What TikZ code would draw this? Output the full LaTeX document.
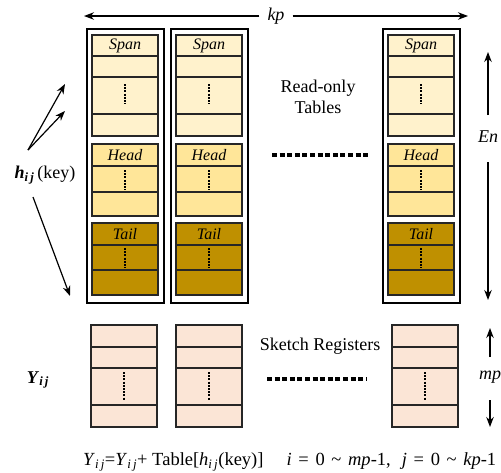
\documentclass[tikz,border=0pt]{standalone}
\usepackage{fontspec}
\setmainfont{Liberation Serif}
\usetikzlibrary{positioning, arrows.meta}
\definecolor{xspan}{HTML}{FFF2CC}
\definecolor{xhead}{HTML}{FFE699}
\definecolor{xtail}{HTML}{BF9000}
\definecolor{xreg}{HTML}{FBE5D6}
\tikzset{
	arrow/.style={line width=1.2pt, -{Stealth[length=10pt, width=7.5pt]}},
	frame/.style={line width=1.2pt, draw=black, fill=white},
	cell/.style={line width=1.5pt, draw=black!85},
	vdots/.style={line width=2.4pt, dash pattern=on 2pt off 1.2pt},
	hdots/.style={line width=3.4pt, dash pattern=on 5pt off 2.6pt},
	lbl/.style={font=\fontsize{16}{16}\selectfont\itshape, inner sep=0pt},
	txt/.style={font=\fontsize{18}{21}\selectfont, align=center, inner sep=0pt},
}

\begin{document}
\begin{tikzpicture}[x=1pt, y=-1pt]
	\useasboundingbox (0,0) rectangle (501,472);
	\clip (0,0) rectangle (501,472);
	% read-only tables
	\foreach \x in {92,176,388} {
		\draw[frame] (\x-5,29) rectangle (\x+72,303);
		% span
		\draw[cell, fill=xspan] (\x,35) rectangle (\x+66,136);
		\foreach \y in {56,77,114} \draw[cell] (\x,\y) -- (\x+66,\y);
		\node[lbl] (span\x) at (\x+33,46) {Span};
		\draw[vdots] (\x+33,84) -- (\x+33,104);
		% head
		\draw[cell, fill=xhead] (\x,144) rectangle (\x+66,216);
		\foreach \y in {166,192} \draw[cell] (\x,\y) -- (\x+66,\y);
		\node[lbl] (head\x) at (\x+33,155) {Head};
		\draw[vdots] (\x+33,170) -- (\x+33,190);
		% tail
		\draw[cell, fill=xtail] (\x,223) rectangle (\x+66,295);
		\foreach \y in {245,270} \draw[cell] (\x,\y) -- (\x+66,\y);
		\node[lbl] (tail\x) at (\x+33,234) {Tail};
		\draw[vdots] (\x+33,248) -- (\x+33,268);
	}
	\node[txt] (ro) at (318,97) {Read-only\\Tables};
	\draw[hdots] (272,155) -- (370,155);

	% sketch registers
	\foreach \x in {91,176,392} {
		\draw[cell, fill=xreg] (\x,325) rectangle (\x+66,427);
		\foreach \y in {347,368,405} \draw[cell] (\x,\y) -- (\x+66,\y);
		\draw[vdots] (\x+33,372) -- (\x+33,400);
	}
	\node[txt] (sr) at (320,346) {Sketch Registers};
	\draw[hdots] (267,379) -- (366,379);

	% kp
	\node[txt, font=\fontsize{18}{18}\selectfont\itshape, inner xsep=8pt] (kp) at (276,16) {kp};
	\coordinate (kpl) at (84,16);
	\coordinate (kpr) at (468,16);
	\draw[arrow] (kp.west) -- (kpl);
	\draw[arrow] (kp.east) -- (kpr);

	% En
	\node[txt, font=\fontsize{18}{18}\selectfont\itshape, anchor=west] (En) at (478,137) {En};
	\coordinate (enup) at (488,115);
	\coordinate (entop) at (488,52);
	\coordinate (endn) at (488,162);
	\coordinate (enbot) at (488,300);
	\draw[arrow] (enup) -- (entop);
	\draw[arrow] (endn) -- (enbot);

	% mp
	\node[txt, font=\fontsize{18}{18}\selectfont\itshape, anchor=west] (mp) at (479,377) {mp};
	\coordinate (mpup) at (490,357);
	\coordinate (mptop) at (490,328);
	\coordinate (mpdn) at (490,400);
	\coordinate (mpbot) at (490,427);
	\draw[arrow] (mpup) -- (mptop);
	\draw[arrow] (mpdn) -- (mpbot);

	% h_ij
	\node[txt] (h) at (45,175) {\textbf{\textit{h}}\textsubscript{\textbf{\textit{i\,j}}}\,(key)};
	\coordinate (hsrc) at (28,150);
	\coordinate (hspan) at (65,84);
	\coordinate (hhead) at (65,111);
	\coordinate (hsrcb) at (33,197);
	\coordinate (htail) at (70,296);
	\draw[arrow] (hsrc) -- (hspan);
	\draw[arrow] (hsrc) -- (hhead);
	\draw[arrow] (hsrcb) -- (htail);

	% Y_ij
	\node[txt] (Y) at (38,380) {\textbf{\textit{Y}}\textsubscript{\textbf{\textit{i\,j}}}};
	\node[txt, font=\fontsize{18.5}{20}\selectfont, anchor=west] (eq) at (83,462) {\textit{Y}\textsubscript{\textit{i\,j}}=\textit{Y}\textsubscript{\textit{i\,j}}+ Table[\textit{h}\textsubscript{\textit{i\,j}}(key)]\hspace{1.25em}\textit{i}\hspace{0.36em}=\hspace{0.36em}0\hspace{0.36em}\textasciitilde\hspace{0.36em}\textit{mp}-1,\hspace{0.6em}\textit{j}\hspace{0.36em}=\hspace{0.36em}0\hspace{0.36em}\textasciitilde\hspace{0.36em}\textit{kp}-1};
\end{tikzpicture}
\end{document}
